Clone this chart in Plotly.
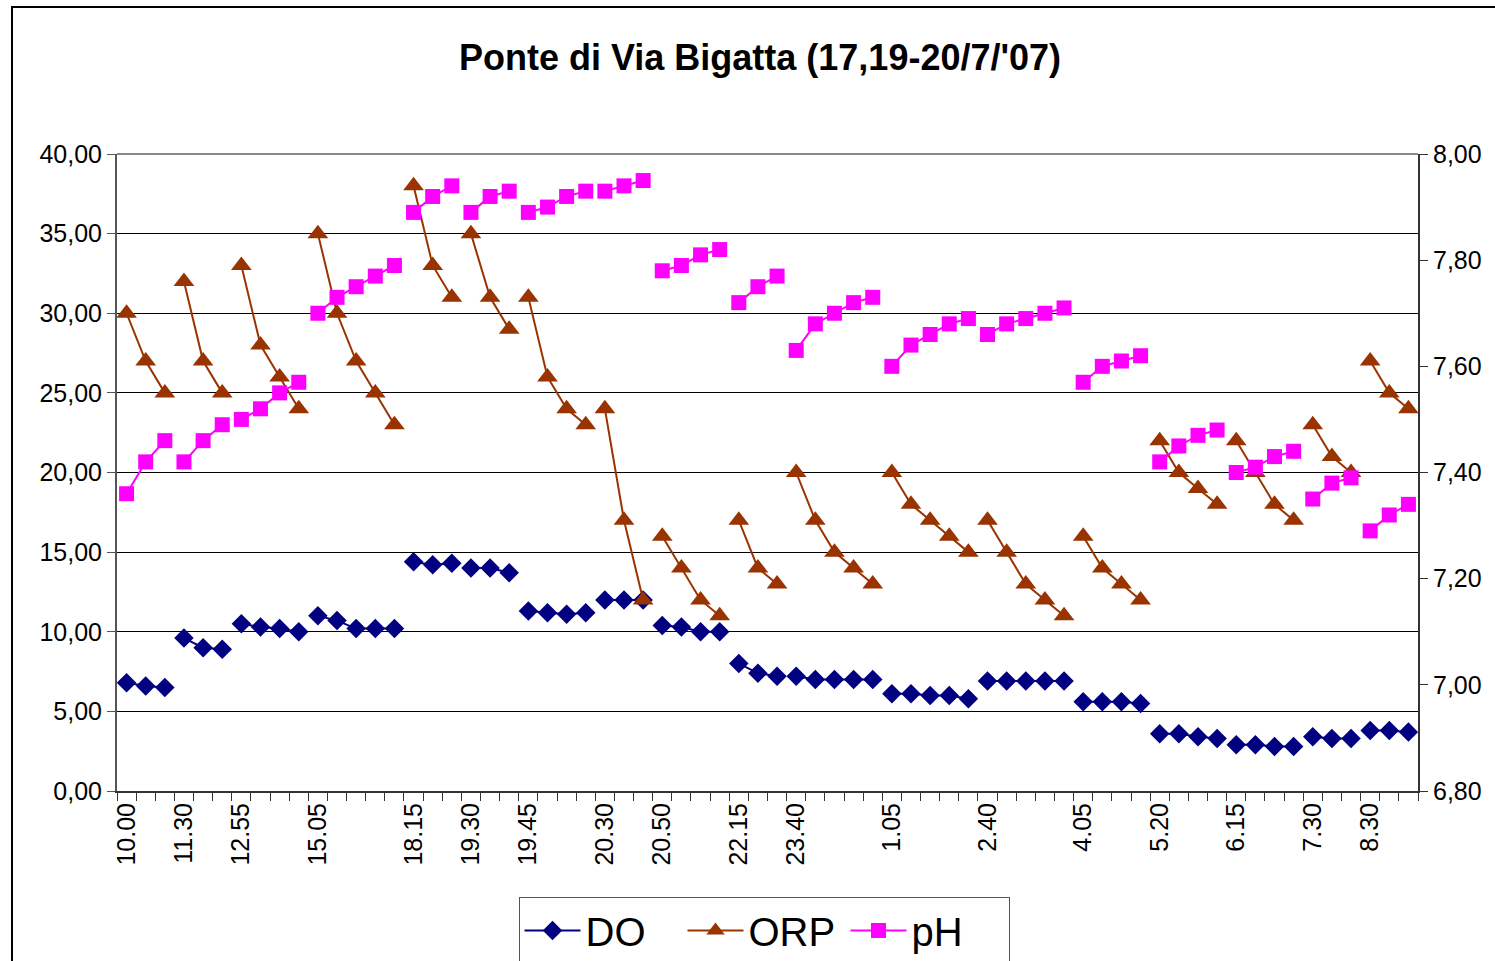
import plotly.graph_objects as go

# ---------------- data ----------------
group_labels = ["10.00", "11.30", "12.55", "15.05", "18.15", "19.30", "19.45", "20.30",
                "20.50", "22.15", "23.40", "1.05", "2.40", "4.05", "5.20", "6.15", "7.30", "8.30"]
group_sizes = [3, 3, 4, 5, 3, 3, 4, 3, 4, 3, 5, 5, 5, 4, 4, 4, 3, 3]

do_vals = [6.8, 6.6, 6.5,
           9.6, 9.0, 8.9,
           10.5, 10.3, 10.2, 10.0,
           11.0, 10.7, 10.2, 10.2, 10.2,
           14.4, 14.2, 14.3,
           14.0, 14.0, 13.7,
           11.3, 11.2, 11.1, 11.2,
           12.0, 12.0, 12.0,
           10.4, 10.3, 10.0, 10.0,
           8.0, 7.4, 7.2,
           7.2, 7.0, 7.0, 7.0, 7.0,
           6.1, 6.1, 6.0, 6.0, 5.8,
           6.9, 6.9, 6.9, 6.9, 6.9,
           5.6, 5.6, 5.6, 5.5,
           3.6, 3.6, 3.4, 3.3,
           2.9, 2.9, 2.8, 2.8,
           3.4, 3.3, 3.3,
           3.8, 3.8, 3.7]

orp_vals = [30, 27, 25,
            32, 27, 25,
            33, 28, 26, 24,
            35, 30, 27, 25, 23,
            38, 33, 31,
            35, 31, 29,
            31, 26, 24, 23,
            24, 17, 12,
            16, 14, 12, 11,
            17, 14, 13,
            20, 17, 15, 14, 13,
            20, 18, 17, 16, 15,
            17, 15, 13, 12, 11,
            16, 14, 13, 12,
            22, 20, 19, 18,
            22, 20, 18, 17,
            23, 21, 20,
            27, 25, 24]

ph_vals = [7.36, 7.42, 7.46,
           7.42, 7.46, 7.49,
           7.50, 7.52, 7.55, 7.57,
           7.70, 7.73, 7.75, 7.77, 7.79,
           7.89, 7.92, 7.94,
           7.89, 7.92, 7.93,
           7.89, 7.90, 7.92, 7.93,
           7.93, 7.94, 7.95,
           7.78, 7.79, 7.81, 7.82,
           7.72, 7.75, 7.77,
           7.63, 7.68, 7.70, 7.72, 7.73,
           7.60, 7.64, 7.66, 7.68, 7.69,
           7.66, 7.68, 7.69, 7.70, 7.71,
           7.57, 7.60, 7.61, 7.62,
           7.42, 7.45, 7.47, 7.48,
           7.40, 7.41, 7.43, 7.44,
           7.35, 7.38, 7.39,
           7.29, 7.32, 7.34]

left_ticks = [0, 5, 10, 15, 20, 25, 30, 35, 40]
right_ticks = [6.8, 7.0, 7.2, 7.4, 7.6, 7.8, 8.0]

# ---------------- helpers ----------------
n_cat = sum(group_sizes)
group_starts = []
s = 0
for g in group_sizes:
    group_starts.append(s)
    s += g


def broken(vals):
    xs, ys = [], []
    i = 0
    for g in group_sizes:
        for k in range(g):
            xs.append(i + k)
            ys.append(vals[i + k])
        xs.append(None)
        ys.append(None)
        i += g
    return xs, ys


def comma(v, nd=2):
    return f"{v:.{nd}f}".replace(".", ",")


FONT = "Liberation Sans, Arial, sans-serif"

fig = go.Figure()

x, y = broken(do_vals)
fig.add_trace(go.Scatter(x=x, y=y, name="DO", mode="lines+markers",
                         line=dict(color="#000080", width=2),
                         marker=dict(symbol="diamond", size=15, color="#000080"),
                         connectgaps=False, yaxis="y"))
x, y = broken(orp_vals)
fig.add_trace(go.Scatter(x=x, y=y, name="ORP", mode="lines+markers",
                         line=dict(color="#993300", width=2),
                         marker=dict(symbol="triangle-up", size=18, color="#993300"),
                         connectgaps=False, yaxis="y"))
x, y = broken(ph_vals)
fig.add_trace(go.Scatter(x=x, y=y, name="pH", mode="lines+markers",
                         line=dict(color="#FF00FF", width=2),
                         marker=dict(symbol="square", size=15, color="#FF00FF"),
                         connectgaps=False, yaxis="y2"))

W, H = 1495, 961
L, R, T, B = 117, 1418, 154, 791

fig.update_layout(
    width=W, height=H,
    margin=dict(l=L, r=W - R, t=T, b=H - B, autoexpand=False),
    paper_bgcolor="white", plot_bgcolor="white",
    font=dict(family=FONT, color="black", size=25),
    title=dict(text="<b>Ponte di Via Bigatta (17,19-20/7/'07)</b>",
               font=dict(family=FONT, size=36, color="black"),
               x=(760 - L) / (R - L), xref="paper", xanchor="center",
               y=1 - 57 / H, yref="container", yanchor="middle"),
    showlegend=True,
    legend=dict(orientation="h", x=(764 - L) / (R - L), xanchor="center",
                y=(B - 897) / (B - T), yanchor="top",
                font=dict(family=FONT, size=40, color="black"),
                bordercolor="#555555", borderwidth=1, bgcolor="white",
                itemwidth=56, entrywidth=92, entrywidthmode="pixels",
                tracegroupgap=0),
    xaxis=dict(range=[-0.5, n_cat - 0.5],
               tickmode="array", tickvals=group_starts, ticktext=group_labels,
               tickangle=-90, ticks="", showgrid=False, zeroline=False,
               showline=True, linecolor="#333333", linewidth=2,
               tickfont=dict(family=FONT, size=25, color="black"),
               minor=dict(tickmode="linear", tick0=-0.5, dtick=1, ticks="outside",
                          ticklen=8, tickcolor="#333333", tickwidth=1, showgrid=False)),
    yaxis=dict(range=[0, 40], tickmode="array", tickvals=left_ticks,
               ticktext=[comma(v) for v in left_ticks],
               showgrid=True, gridcolor="black", gridwidth=1, zeroline=False,
               showline=True, linecolor="#555555", linewidth=2,
               ticks="outside", ticklen=8, tickcolor="#555555",
               tickfont=dict(family=FONT, size=25, color="black")),
    yaxis2=dict(range=[6.8, 8.0], overlaying="y", side="right",
                tickmode="array", tickvals=right_ticks,
                ticktext=[comma(v) for v in right_ticks],
                showgrid=False, zeroline=False,
                showline=True, linecolor="#333333", linewidth=2,
                ticks="outside", ticklen=8, tickcolor="#333333",
                tickfont=dict(family=FONT, size=25, color="black")),
)

# top border of plot area (gray) and outer chart frame
fig.add_shape(type="line", xref="paper", yref="paper", x0=0, x1=1, y0=1, y1=1,
              line=dict(color="#888888", width=2), layer="above")
fig.add_shape(type="rect", xref="paper", yref="paper",
              x0=(12 - L) / (R - L), x1=(1510 - L) / (R - L),
              y0=(B - 990) / (B - T), y1=(B - 7) / (B - T),
              line=dict(color="black", width=2), fillcolor="rgba(0,0,0,0)", layer="below")

# remove the default 8px page margin so the figure sits at the page origin
fig.write_html("out.html", config={"displayModeBar": False},
               post_script="document.body.style.margin='0px';document.body.style.overflow='hidden';")
